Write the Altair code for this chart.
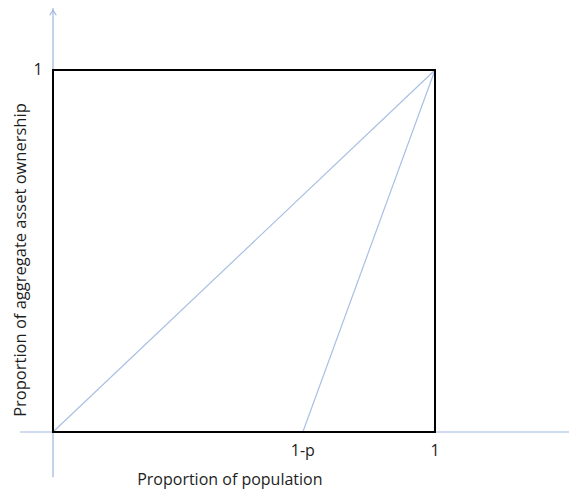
import altair as alt
import pandas as pd

# ---- data ----
one_minus_p = 0.654
line_series = ["equality", "equality", "p_line", "p_line"]
line_x = [0.0, 1.0, one_minus_p, 1.0]
line_y = [0.0, 1.0, 0.0, 1.0]

tick_text = ["1-p", "1"]
tick_x = [one_minus_p, 1.0]
ytick_text = ["1"]
ytick_y = [1.0]

x_title = "Proportion of population"
y_title = "Proportion of aggregate  asset ownership"

# ---- scales ----
W, H = 561, 482
XMIN, XMAX = -0.1178, 1.3508
YMIN, YMAX = -0.1602, 1.1713
xs = alt.Scale(domain=[XMIN, XMAX], nice=False, zero=False)
ys = alt.Scale(domain=[YMIN, YMAX], nice=False, zero=False)
AX = "#9db5dc"
FONT = "Open Sans"
TXT = "#1e1e1e"

def X(f="x"):
    return alt.X(f"{f}:Q", scale=xs, axis=None)

def Y(f="y"):
    return alt.Y(f"{f}:Q", scale=ys, axis=None)

axes_df = pd.DataFrame({
    "x": [-0.086, 0.0], "x2": [1.3508, 0.0],
    "y": [0.0, -0.125], "y2": [0.0, 1.18],
})
axes = alt.Chart(axes_df).mark_rule(color=AX, strokeWidth=1.2).encode(
    x=X(), x2="x2:Q", y=Y(), y2="y2:Q")

arrow_df = pd.DataFrame({"x": [0.0], "y": [1.165]})
arrow = alt.Chart(arrow_df).mark_point(
    shape="M-0.6,0.9 L0,0 L0.6,0.9", filled=False, color=AX,
    size=120, strokeWidth=1.2, opacity=1).encode(x=X(), y=Y())

lines_df = pd.DataFrame({"s": line_series, "x": line_x, "y": line_y})
lines = alt.Chart(lines_df).mark_line(color="#a9bfe3", strokeWidth=1.2).encode(
    x=X(), y=Y(), detail="s:N")

sq_df = pd.DataFrame({"x": [0.0], "x2": [1.0], "y": [0.0], "y2": [1.0]})
square = alt.Chart(sq_df).mark_rect(filled=False, stroke="black", strokeWidth=2).encode(
    x=X(), x2="x2:Q", y=Y(), y2="y2:Q")

xt_df = pd.DataFrame({"t": tick_text, "x": tick_x, "y": [-0.052] * len(tick_x)})
xticks = alt.Chart(xt_df).mark_text(font=FONT, fontSize=16, color=TXT).encode(
    x=X(), y=Y(), text="t:N")

yt_df = pd.DataFrame({"t": ytick_text, "x": [-0.039], "y": ytick_y})
yticks = alt.Chart(yt_df).mark_text(font=FONT, fontSize=16, color=TXT).encode(
    x=X(), y=Y(), text="t:N")

xtit = alt.Chart(pd.DataFrame({"t": [x_title], "x": [0.463], "y": [-0.1326]})).mark_text(
    font=FONT, fontSize=16, color=TXT).encode(x=X(), y=Y(), text="t:N")
ytit = alt.Chart(pd.DataFrame({"t": [y_title], "x": [-0.085], "y": [0.475]})).mark_text(
    font=FONT, fontSize=16.5, color=TXT, angle=270).encode(x=X(), y=Y(), text="t:N")

chart = alt.layer(axes, arrow, lines, square, xticks, yticks, xtit, ytit).properties(
    width=W, height=H, padding=0, autosize=alt.AutoSizeParams(type="none"),
    background="white",
).configure_view(stroke=None)

chart.save("out.html", embed_options={"renderer": "svg", "actions": False})
